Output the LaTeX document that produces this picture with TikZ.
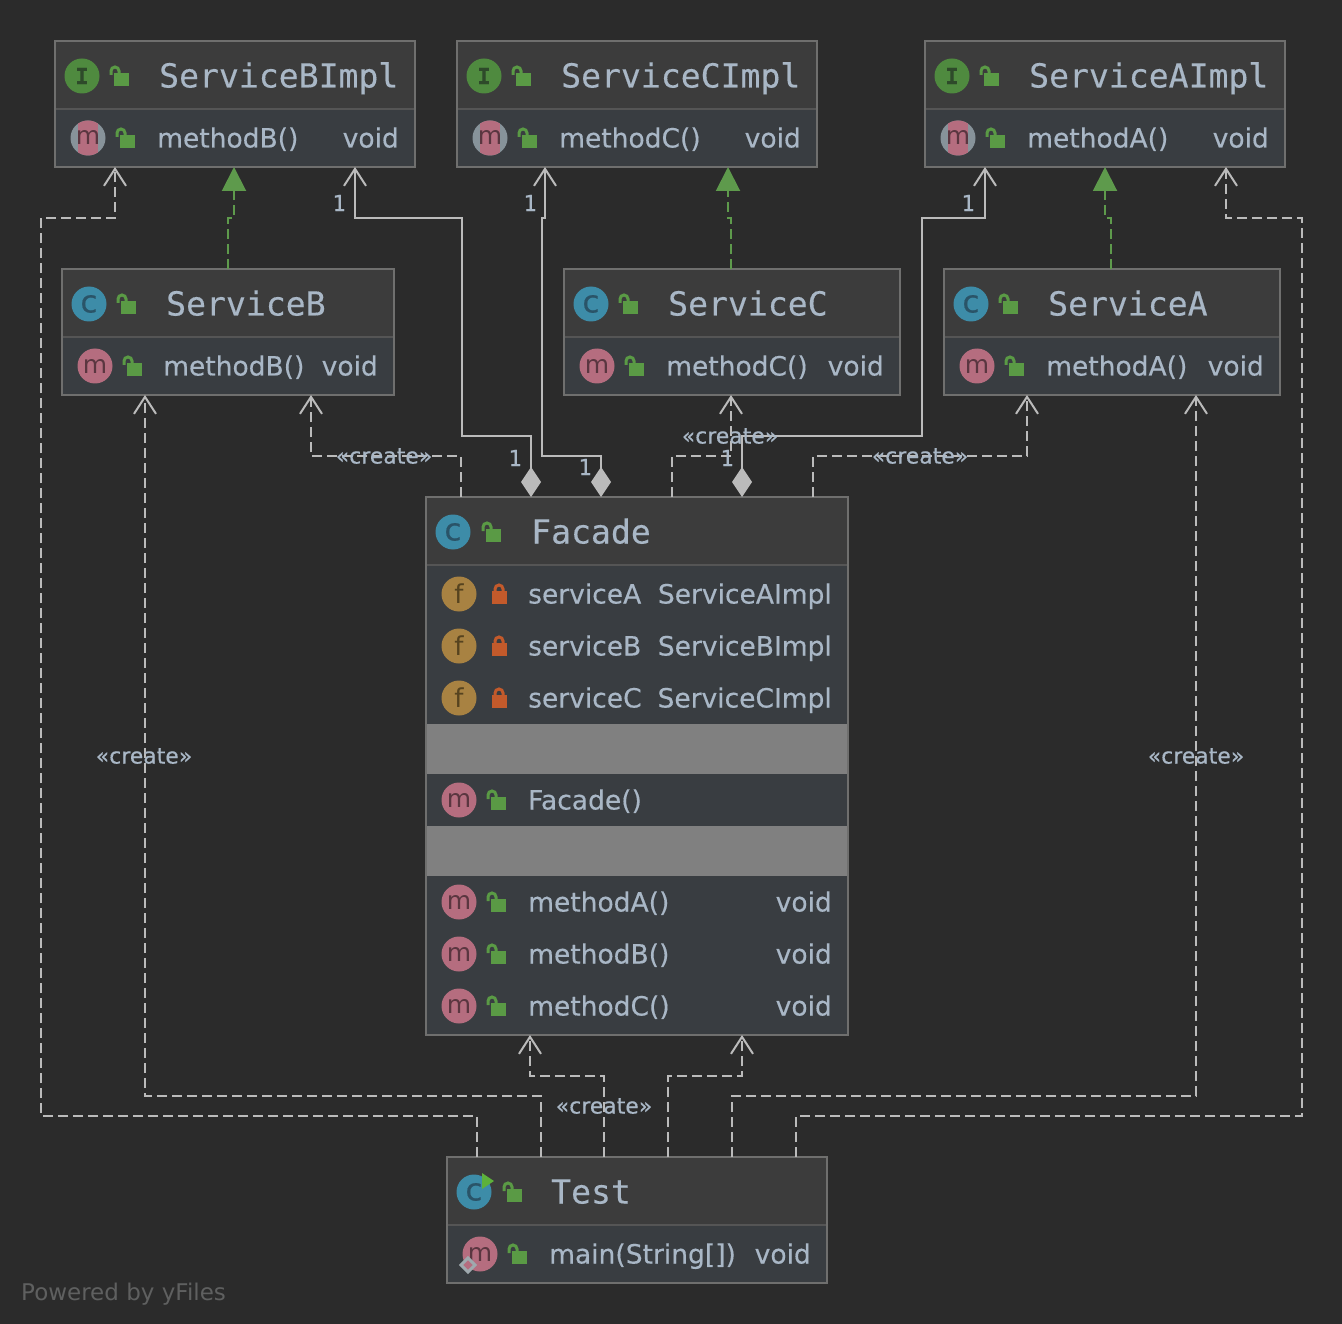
\documentclass[tikz,border=0pt]{standalone}
\usepackage{fontspec}
\setmainfont{DejaVu Sans}
\newfontfamily\monof[FakeBold=0.3]{DejaVu Sans Mono}
\newfontfamily\bodyf[FakeBold=0.4]{DejaVu Sans}
\usetikzlibrary{arrows.meta}
\definecolor{bgc}{HTML}{2B2B2B}
\definecolor{headc}{HTML}{3C3C3C}
\definecolor{bodyc}{HTML}{393D41}
\definecolor{edgec}{HTML}{6F6F6E}
\definecolor{sepc}{HTML}{555555}
\definecolor{bandc}{HTML}{808080}
\definecolor{txtc}{HTML}{A9B7C6}
\definecolor{linec}{HTML}{BBBBBB}
\definecolor{greenl}{HTML}{5A9A45}
\definecolor{greena}{HTML}{5E9A4C}
\definecolor{clsc}{HTML}{3D8CA8}
\definecolor{clsd}{HTML}{2A5468}
\definecolor{mc}{HTML}{B56D7F}
\definecolor{md}{HTML}{5A3640}
\definecolor{fc}{HTML}{A88242}
\definecolor{fd}{HTML}{56431F}
\definecolor{ic}{HTML}{4F8A3F}
\definecolor{id}{HTML}{2E4A2A}
\definecolor{redl}{HTML}{C35A2B}
\definecolor{absg}{HTML}{87939A}
\definecolor{playc}{HTML}{5DB13B}
\definecolor{pow}{HTML}{5F6060}
\tikzset{
  x=1pt,y=-1pt,
  boxn/.style={draw=edgec,line width=2pt,fill=bodyc,anchor=north west,inner sep=0pt,outer sep=0pt,rectangle},
  titlet/.style={text=txtc,inner sep=0pt,anchor=base west,font=\monof\fontsize{33.1}{36}\selectfont},
  bodyt/.style={text=txtc,inner sep=0pt,anchor=base west,font=\bodyf\fontsize{26.5}{30}\selectfont},
  bodyr/.style={bodyt,anchor=base east},
  labelt/.style={text=txtc,inner sep=0pt,font=\bodyf\fontsize{21.9}{26}\selectfont},
  multt/.style={text=txtc,inner sep=0pt,font=\monof\fontsize{22}{26}\selectfont},
  icon/.style={circle,inner sep=0pt,outer sep=0pt,minimum size=35pt},
  dep/.style={draw=linec,line width=2pt,dash pattern=on 10pt off 5pt,-{Straight Barb[length=17pt,width=22pt,line width=2pt]}},
  real/.style={draw=greena,line width=2pt,dash pattern=on 10pt off 5pt,-{Triangle[length=24pt,width=24pt,fill=greena]}},
  assoc/.style={draw=linec,line width=2pt,{Diamond[length=30pt,width=20pt,fill=linec,sep=0pt]}-{Straight Barb[length=17pt,width=22pt,line width=2pt]}},
  openlock/.pic={
    \fill[greenl] (-6,-3) rectangle (9,10);
    \draw[greenl,line width=3pt] (-9,-1) -- (-9,-5) arc[start angle=180,end angle=360,radius=4] -- (-1,-3);
  },
  closedlock/.pic={
    \fill[redl] (-7.5,-3) rectangle (7.5,10);
    \draw[redl,line width=3pt] (-4,-3) -- (-4,-5) arc[start angle=180,end angle=360,radius=4] -- (4,-3);
  }
}
\newcommand\umlbox[6]{%
  \node[boxn,minimum width=#4pt,minimum height=#5pt] (#1) at (#2,#3) {};
  \fill[headc] (#1.north west) rectangle (#1.north east |- 0,#6);
  \draw[sepc,line width=2pt] (#1.west |- 0,#6) -- (#1.east |- 0,#6);
  \draw[edgec,line width=2pt] (#1.north west) rectangle (#1.south east);
}
\newcommand\cic[3]{\node[icon,fill=clsc,text=clsd,font=\bodyf\fontsize{31}{32}\selectfont] (#1) at (#2,#3) {\raisebox{-1pt}{c}};}
\newcommand\iic[3]{\node[icon,fill=ic,text=id,font=\monof\bfseries\fontsize{22}{28}\selectfont] (#1) at (#2,#3) {I};}
\newcommand\mic[3]{\node[icon,fill=mc,text=md,font=\fontsize{25}{28}\selectfont] (#1) at (#2,#3) {\raisebox{-2pt}{m}};}
\newcommand\fic[3]{\node[icon,fill=fc,text=fd,font=\fontsize{26}{28}\selectfont] (#1) at (#2,#3) {f};}
\newcommand\amic[3]{%
  \fill[absg] (#2,#3) circle[radius=17.5];
  \begin{scope}
    \clip (#2,#3) circle[radius=17.5];
    \fill[mc] (#2-10,#3-18) rectangle (#2+10,#3+18);
  \end{scope}
  \node[inner sep=0pt,text=md,font=\fontsize{25}{28}\selectfont] (#1) at (#2,#3) {\raisebox{-2pt}{m}};}
\newcommand\titlerow[5]{%
  \pic at (#2,#3) {openlock};
  \node[titlet] (#1) at (#4,#3+11.5) {#5};}
\newcommand\memrow[7]{%
  \pic at (#2,#3) {openlock};
  \node[bodyt] (#1a) at (#4,#3+9.5) {#5};
  \node[bodyr] (#1b) at (#6,#3+9.5) {#7};}
\newcommand\fieldrow[7]{%
  \pic at (#2,#3) {closedlock};
  \node[bodyt] (#1a) at (#4,#3+9.5) {#5};
  \node[bodyr] (#1b) at (#6,#3+9.5) {#7};}
\begin{document}
\begin{tikzpicture}
\useasboundingbox (0,0) rectangle (1342,1324);
\fill[bgc] (0,0) rectangle (1342,1324);

% boxes
\umlbox{sbi}{55}{41}{360}{126}{109}
\umlbox{sci}{457}{41}{360}{126}{109}
\umlbox{sai}{925}{41}{360}{126}{109}
\umlbox{sb}{62}{269}{332}{126}{337}
\umlbox{sc}{564}{269}{336}{126}{337}
\umlbox{sa}{944}{269}{336}{126}{337}
\umlbox{fac}{426}{497}{422}{538}{565}
\umlbox{tst}{447}{1157}{380}{126}{1225}
\fill[bandc] (427,724) rectangle (847,774);
\fill[bandc] (427,826) rectangle (847,876);

% ServiceBImpl
\iic{sbiI}{82}{76}\titlerow{sbiT}{120}{76}{159}{ServiceBImpl}
\amic{sbiM}{88}{138}\memrow{sbiR}{126}{138}{157}{methodB()}{399}{void}
% ServiceCImpl
\iic{sciI}{484}{76}\titlerow{sciT}{522}{76}{561}{ServiceCImpl}
\amic{sciM}{490}{138}\memrow{sciR}{528}{138}{559}{methodC()}{801}{void}
% ServiceAImpl
\iic{saiI}{952}{76}\titlerow{saiT}{990}{76}{1029}{ServiceAImpl}
\amic{saiM}{958}{138}\memrow{saiR}{996}{138}{1027}{methodA()}{1269}{void}
% ServiceB
\cic{sbC}{89}{304}\titlerow{sbT}{127}{304}{166}{ServiceB}
\mic{sbM}{95}{366}\memrow{sbR}{133}{366}{163}{methodB()}{378}{void}
% ServiceC
\cic{scC}{591}{304}\titlerow{scT}{629}{304}{668}{ServiceC}
\mic{scM}{597}{366}\memrow{scR}{635}{366}{666}{methodC()}{884}{void}
% ServiceA
\cic{saC}{971}{304}\titlerow{saT}{1009}{304}{1048}{ServiceA}
\mic{saM}{977}{366}\memrow{saR}{1015}{366}{1046}{methodA()}{1264}{void}
% Facade
\cic{facC}{453}{532}\titlerow{facT}{492}{532}{531}{Facade}
\fic{facF1}{459}{594}\fieldrow{facR1}{499}{594}{528}{serviceA}{832}{ServiceAImpl}
\fic{facF2}{459}{646}\fieldrow{facR2}{499}{646}{528}{serviceB}{832}{ServiceBImpl}
\fic{facF3}{459}{698}\fieldrow{facR3}{499}{698}{528}{serviceC}{832}{ServiceCImpl}
\mic{facM0}{459}{800}\pic at (497,800) {openlock};\node[bodyt] (facCtor) at (528,809.5) {Facade()};
\mic{facM1}{459}{902}\memrow{facR4}{497}{902}{528}{methodA()}{832}{void}
\mic{facM2}{459}{954}\memrow{facR5}{497}{954}{528}{methodB()}{832}{void}
\mic{facM3}{459}{1006}\memrow{facR6}{497}{1006}{528}{methodC()}{832}{void}
% Test
\cic{tstC}{474}{1192}\titlerow{tstT}{513}{1192}{551}{Test}
\fill[playc] (482,1173) -- (494,1181) -- (482,1189) -- cycle;
\mic{tstM}{480}{1254}\memrow{tstR}{518}{1254}{549}{main(String[])}{811}{void}
\draw[fill=mc,draw=absg!80!white,line width=3pt] (468,1258) -- (475,1265) -- (468,1272) -- (461,1265) -- cycle;

% connectors: dependencies from Test
\draw[dep] (477,0 |- tst.north) -- (477,1116) -- (41,1116) -- (41,218) -- (115,218) -- (115,0 |- sbi.south);
\draw[dep] (541,0 |- tst.north) -- (541,1096) -- (145,1096) -- (145,0 |- sb.south);
\draw[dep] (604,0 |- tst.north) -- (604,1076) -- (530,1076) -- (530,0 |- fac.south);
\draw[dep] (668,0 |- tst.north) -- (668,1076) -- (742,1076) -- (742,0 |- fac.south);
\draw[dep] (732,0 |- tst.north) -- (732,1096) -- (1196,1096) -- (1196,0 |- sa.south);
\draw[dep] (796,0 |- tst.north) -- (796,1116) -- (1302,1116) -- (1302,218) -- (1226,218) -- (1226,0 |- sai.south);
% dependencies from Facade
\draw[dep] (461,0 |- fac.north) -- (461,456) -- (311,456) -- (311,0 |- sb.south);
\draw[dep] (672,0 |- fac.north) -- (672,456) -- (731,456) -- (731,0 |- sc.south);
\draw[dep] (813,0 |- fac.north) -- (813,456) -- (1027,456) -- (1027,0 |- sa.south);
% aggregations
\draw[assoc] (531,0 |- fac.north) -- (531,436) -- (462,436) -- (462,218) -- (355,218) -- (355,0 |- sbi.south);
\draw[assoc] (601,0 |- fac.north) -- (601,456) -- (542,456) -- (542,218) -- (545,218) -- (545,0 |- sci.south);
\draw[assoc] (742,0 |- fac.north) -- (742,436) -- (922,436) -- (922,218) -- (985,218) -- (985,0 |- sai.south);
% realizations
\draw[real] (228,0 |- sb.north) -- (228,218) -- (234,218) -- (234,0 |- sbi.south);
\draw[real] (731,0 |- sc.north) -- (731,218) -- (728,218) -- (728,0 |- sci.south);
\draw[real] (1111,0 |- sa.north) -- (1111,218) -- (1105,218) -- (1105,0 |- sai.south);

% labels
\node[labelt] (l1) at (384,456) {«create»};
\node[labelt] (l2) at (730,436) {«create»};
\node[labelt] (l3) at (920,456) {«create»};
\node[labelt] (l4) at (144,756) {«create»};
\node[labelt] (l5) at (1196,756) {«create»};
\node[labelt] (l6) at (604,1106) {«create»};
\node[multt] (m1) at (339,203) {1};
\node[multt] (m2) at (530,203) {1};
\node[multt] (m3) at (968,203) {1};
\node[multt] (m4) at (515,458) {1};
\node[multt] (m5) at (585,467) {1};
\node[multt] (m6) at (727,458) {1};
\node[bodyt,text=pow,font=\fontsize{23}{28}\selectfont] (pw) at (21,1300) {Powered by yFiles};
\end{tikzpicture}
\end{document}
